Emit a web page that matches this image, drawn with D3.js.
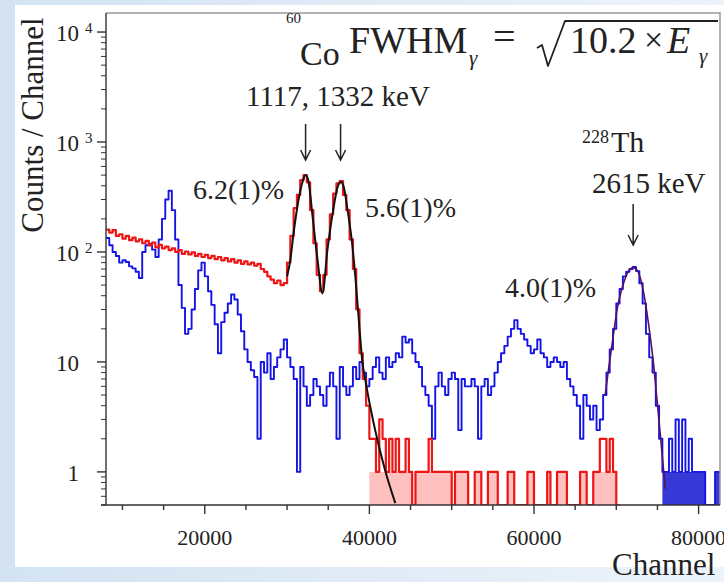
<!DOCTYPE html>
<html>
<head>
<meta charset="utf-8">
<script src="https://cdn.jsdelivr.net/npm/d3@7"></script>
<style>
  body { margin: 0; }
  svg { display: block; }
  text { font-family: 'Liberation Serif', 'Times New Roman', serif; }
</style>
</head>
<body>
<script>
// histogram bins: 400 channels wide, first bin starts at channel 8000
const binStart = 8000;
const binWidth = 400;

// 228Th spectrum (blue), counts per bin
const blueCounts = [
  134, 115, 100, 92, 80, 84, 81, 74, 71, 66,
  58, 100, 115, 118, 105, 90, 130, 200, 300, 360,
  240, 130, 50, 31, 18, 20, 30, 46, 68, 80,
  60, 44, 33, 22, 12, 23, 28, 34, 41, 37,
  27, 19, 13, 10, 8.4, 7.3, 2, 10, 8, 12,
  7, 9, 11, 13, 16, 11, 9, 7, 1, 9,
  6, 4, 5, 7, 6, 5, 4, 6, 8, 6,
  2, 9, 6, 5, 6, 9, 7, 10, 8, 6,
  7, 9, 11, 8, 7, 11, 9, 10, 12, 11,
  17, 15, 16, 12, 10, 9, 6, 5, 4, 2,
  6, 8, 6, 5, 7, 8, 7, 2.4, 7, 6,
  6, 7, 6, 2, 6, 7, 5, 6, 8, 10,
  12, 14, 17, 20, 24, 20, 18, 16, 14, 12,
  13, 16, 12, 11, 9, 10, 11, 10, 9, 10,
  7, 6, 5, 4, 2, 5, 4, 3, 4, 2.4,
  3, 5, 8, 13, 20, 34, 46, 60, 66, 70,
  73, 67, 52, 34, 18, 11, 8, 4, 2, 1,
  1, 2, 1, 3, 1, 3, 1, 2, 1, 1,
  1, 1, 0, 0, 0, 1, 1,
];

// 60Co spectrum (red), counts per bin
const redCounts = [
  160, 150, 158, 140, 145, 132, 140, 128, 135, 125,
  130, 120, 126, 115, 122, 110, 116, 108, 112, 104,
  108, 100, 104, 96, 101, 95, 99, 92, 96, 90,
  94, 88, 92, 86, 90, 84, 88, 82, 86, 80,
  84, 78, 82, 77, 80, 75, 78, 70, 66, 60,
  56, 52, 55, 50, 52, 80, 140, 250, 330, 450,
  500, 430, 240, 120, 62, 44, 62, 130, 220, 340,
  420, 440, 330, 240, 130, 70, 30, 12, 7, 4,
  2, 2, 1, 3, 2, 1, 2, 1, 2, 1,
  1, 2, 1, 0, 1, 1, 1, 1, 2, 1,
  1, 1, 1, 1, 1, 0, 1, 1, 1, 1,
  0, 0, 1, 1, 0, 0, 1, 1, 1, 0,
  0, 0, 1, 1, 0, 0, 0, 0, 1, 1,
  0, 0, 0, 0, 1, 0, 0, 1, 1, 1,
  0, 0, 0, 0, 1, 1, 0, 0, 1, 1,
  2, 2, 1, 2, 1, 0,
];

// fitted curves: [channel, counts]
const coFit = [
  [30000, 60], [30400, 85], [30800, 150], [31400, 300], [31900, 440],
  [32250, 500], [32600, 440], [33100, 210], [33700, 85], [34300, 42],
  [34900, 104], [35600, 240], [36100, 380], [36500, 435], [36850, 400],
  [37300, 255], [37900, 120], [38300, 59], [38800, 20], [39150, 10],
  [39500, 6.9], [40700, 2.4], [41900, 1.04], [43150, 0.52],
];
const thFit = [
  [68650, 5], [69000, 8], [69400, 13], [69750, 20], [70100, 30],
  [70600, 44], [71100, 58], [71550, 68], [72050, 72], [72550, 68],
  [73000, 55], [73500, 36], [74000, 20], [74500, 10], [74950, 4.5],
  [75450, 1.8], [75950, 0.7],
];

const xMajor = [20000, 40000, 60000, 80000];
const xMinor = [10000, 15000, 25000, 30000, 35000, 45000, 50000, 55000, 65000, 70000, 75000];
const yMajor = [1, 10, 100, 1000, 10000];
const yBase = ['1', '10', '10', '10', '10'];
const yExp = ['', '', '2', '3', '4'];
const yMinor = [0.5, 0.6, 0.7, 0.8, 0.9, 2, 3, 4, 5, 6, 7, 8, 9,
  20, 30, 40, 50, 60, 70, 80, 90, 200, 300, 400, 500, 600, 700, 800, 900,
  2000, 3000, 4000, 5000, 6000, 7000, 8000, 9000];

const width = 724;
const height = 582;
const yMin = 0.5;
const ink = '#222';

const x = d3.scaleLinear().domain([8000, 82600]).range([106, 720]);
const y = d3.scaleLog().domain([yMin, 14900]).range([505, 13]);

const svg = d3.select('body').append('svg')
  .attr('width', width)
  .attr('height', height);

const defs = svg.append('defs');
const grad = defs.append('linearGradient').attr('id', 'bg');
grad.append('stop').attr('offset', '0%').attr('stop-color', '#d3e3f2');
grad.append('stop').attr('offset', '100%').attr('stop-color', '#edf3fa');
defs.append('clipPath').attr('id', 'plot')
  .append('rect')
  .attr('x', 106).attr('y', 13)
  .attr('width', 614).attr('height', 492);

svg.append('rect').attr('width', width).attr('height', height).attr('fill', 'url(#bg)');
svg.append('rect')
  .attr('x', 15).attr('y', 5)
  .attr('width', width - 15).attr('height', 562)
  .attr('fill', '#fff');

function stepPoints(counts) {
  const pts = counts.map((c, i) => [binStart + i * binWidth, c]);
  pts.push([binStart + counts.length * binWidth, counts[counts.length - 1]]);
  return pts;
}

const py = (v) => y(Math.max(v, yMin));

const stepLine = d3.line()
  .curve(d3.curveStepAfter)
  .x((d) => x(d[0]))
  .y((d) => py(d[1]));

// fill only up to one count, taller bins stay as outlines
const stepArea = d3.area()
  .curve(d3.curveStepAfter)
  .x((d) => x(d[0]))
  .y0(y(yMin))
  .y1((d) => py(Math.min(d[1], 1)));

const fitLine = d3.line()
  .curve(d3.curveMonotoneX)
  .x((d) => x(d[0]))
  .y((d) => py(d[1]));

const g = svg.append('g').attr('clip-path', 'url(#plot)');

const bluePts = stepPoints(blueCounts);
const redPts = stepPoints(redCounts);

g.append('path')
  .attr('d', stepArea(bluePts.filter((d) => d[0] >= 75600)))
  .attr('fill', '#1515d0')
  .attr('opacity', 0.85);
g.append('path')
  .attr('d', stepLine(bluePts))
  .attr('fill', 'none')
  .attr('stroke', '#1414e6')
  .attr('stroke-width', 1.9)
  .attr('stroke-linejoin', 'round');

g.append('path')
  .attr('d', stepArea(redPts.filter((d) => d[0] >= 40000)))
  .attr('fill', '#ff3030')
  .attr('opacity', 0.3);
g.append('path')
  .attr('d', stepLine(redPts))
  .attr('fill', 'none')
  .attr('stroke', '#ee1515')
  .attr('stroke-width', 2.2)
  .attr('stroke-linejoin', 'round');

g.append('path')
  .attr('d', fitLine(coFit))
  .attr('fill', 'none')
  .attr('stroke', '#111')
  .attr('stroke-width', 2);
g.append('path')
  .attr('d', fitLine(thFit))
  .attr('fill', 'none')
  .attr('stroke', '#5a1060')
  .attr('stroke-width', 1.6);

// frame
svg.append('path')
  .attr('d', `M${x.range()[0]},${y.range()[1]}H${x.range()[1]}V${y.range()[0]}`)
  .attr('fill', 'none')
  .attr('stroke', '#999')
  .attr('stroke-width', 1.5);

// axes
const axes = svg.append('g').attr('stroke', '#333').attr('stroke-width', 1.4);
axes.append('line')
  .attr('x1', 101).attr('x2', 720)
  .attr('y1', y(yMin)).attr('y2', y(yMin));
axes.append('line')
  .attr('x1', 106).attr('x2', 106)
  .attr('y1', 13).attr('y2', y(yMin));

axes.selectAll('.xmaj').data(xMajor).enter().append('line')
  .attr('x1', (d) => x(d)).attr('x2', (d) => x(d))
  .attr('y1', y(yMin)).attr('y2', y(yMin) + 9);
axes.selectAll('.xmin').data(xMinor).enter().append('line')
  .attr('x1', (d) => x(d)).attr('x2', (d) => x(d))
  .attr('y1', y(yMin)).attr('y2', y(yMin) + 5);
axes.selectAll('.ymaj').data(yMajor).enter().append('line')
  .attr('x1', 97).attr('x2', 106)
  .attr('y1', (d) => y(d)).attr('y2', (d) => y(d));
axes.selectAll('.ymin').data(yMinor).enter().append('line')
  .attr('x1', 101).attr('x2', 106)
  .attr('y1', (d) => y(d)).attr('y2', (d) => y(d))
  .attr('stroke-width', 1);

svg.selectAll('.xlab').data(xMajor).enter().append('text')
  .attr('x', (d) => x(d))
  .attr('y', 545)
  .attr('text-anchor', 'middle')
  .attr('font-size', 22)
  .attr('fill', ink)
  .text((d) => d);

yMajor.forEach((v, i) => {
  svg.append('text')
    .attr('x', 79)
    .attr('y', y(v) + 9)
    .attr('text-anchor', 'end')
    .attr('font-size', 23)
    .attr('fill', ink)
    .text(yBase[i]);
  if (yExp[i]) {
    svg.append('text')
      .attr('x', 85)
      .attr('y', y(v) + 1)
      .attr('font-size', 15)
      .attr('fill', ink)
      .text(yExp[i]);
  }
});

svg.append('text')
  .attr('transform', 'translate(43,125) rotate(-90)')
  .attr('text-anchor', 'middle')
  .attr('font-size', 31)
  .attr('fill', ink)
  .text('Counts / Channel');

svg.append('text')
  .attr('x', 612)
  .attr('y', 575)
  .attr('font-size', 31)
  .attr('fill', ink)
  .text('Channel');

// formula
const t = (tx, ty, size, str, style) => svg.append('text')
  .attr('x', tx).attr('y', ty)
  .attr('font-size', size)
  .attr('font-style', style || 'normal')
  .attr('fill', ink)
  .text(str);

t(286, 23, 15, '60');
t(300, 65, 34, 'Co');
t(349, 53, 38, 'FWHM');
t(469, 65, 21, 'γ', 'italic');
t(493, 50, 40, '=');
svg.append('path')
  .attr('d', 'M537,48L542,45L548,66L565,21H718')
  .attr('fill', 'none')
  .attr('stroke', ink)
  .attr('stroke-width', 1.8)
  .attr('stroke-linejoin', 'round');
t(570, 53, 38, '10.2');
t(644, 51, 34, '×');
t(667, 53, 38, 'E', 'italic');
t(699, 63, 21, 'γ', 'italic');

t(246, 106, 29, '1117, 1332 keV');
t(193, 199, 28, '6.2(1)%');
t(365, 217, 28, '5.6(1)%');
t(505, 297, 28, '4.0(1)%');
t(582, 143, 18, '228');
t(611, 152, 30, 'Th');
t(592, 193, 29, '2615 keV');

// arrows at the peaks
const arrowPeaks = [[32250, 124, 160], [36500, 124, 160], [72050, 204, 245]];
svg.selectAll('.arrow').data(arrowPeaks).enter().append('path')
  .attr('d', (d) => {
    const ax = x(d[0]);
    return `M${ax},${d[1]}V${d[2]}M${ax - 5},${d[2] - 10}L${ax},${d[2]}L${ax + 5},${d[2] - 10}`;
  })
  .attr('fill', 'none')
  .attr('stroke', ink)
  .attr('stroke-width', 1.5);
</script>
</body>
</html>
